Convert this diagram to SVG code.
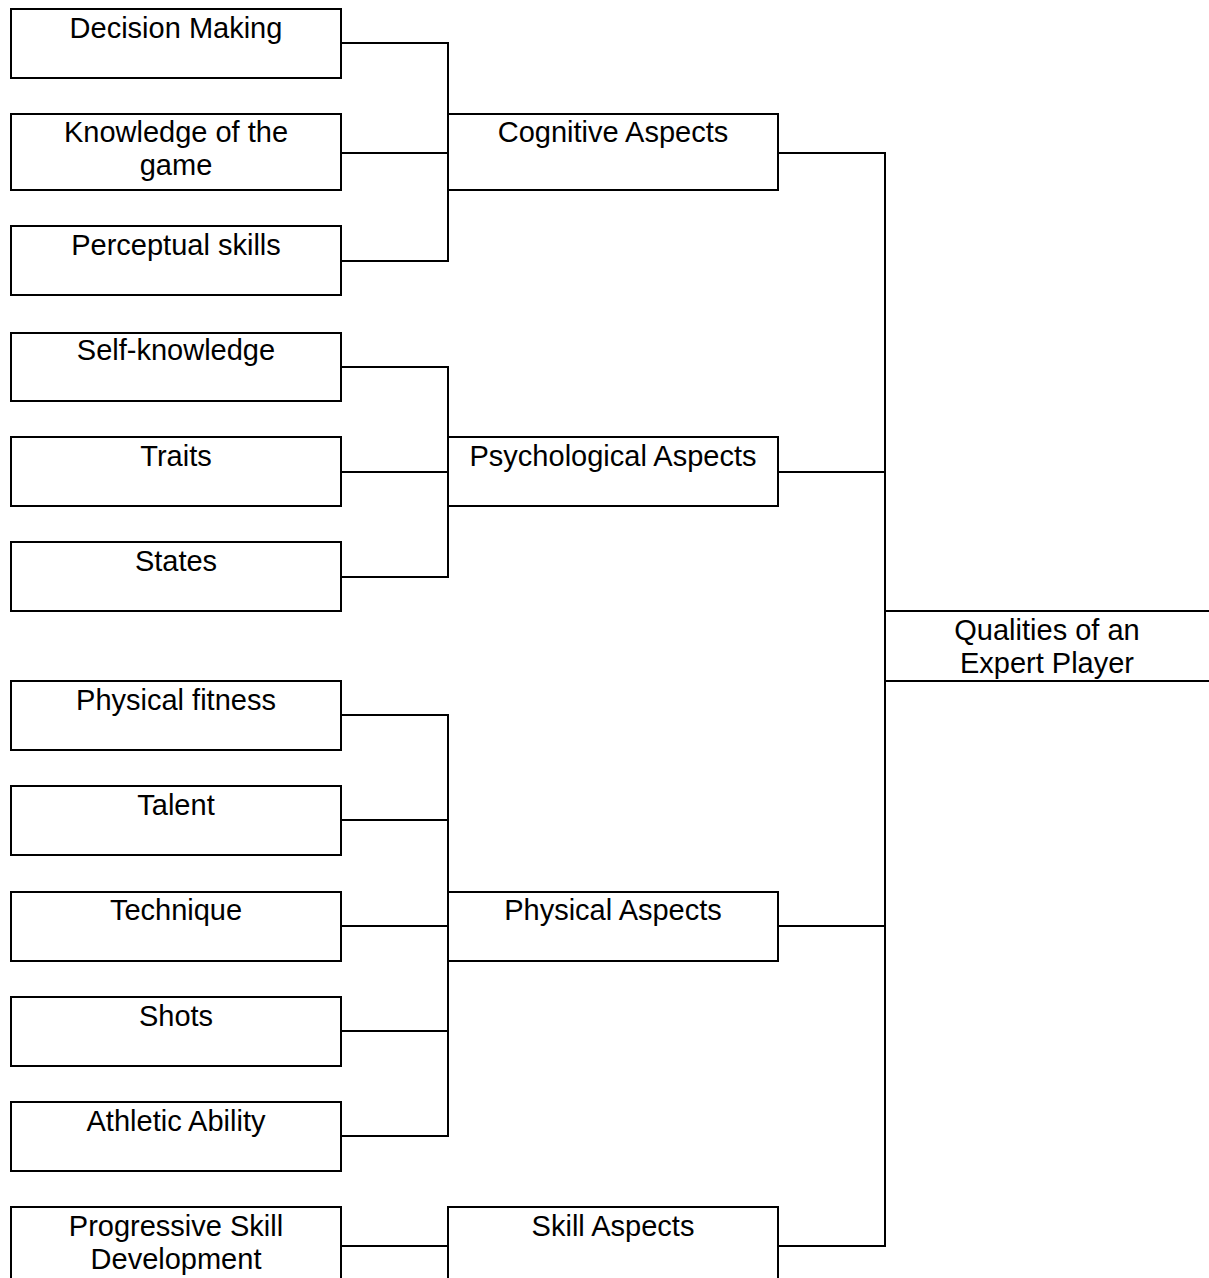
<svg xmlns="http://www.w3.org/2000/svg" width="1209" height="1278" viewBox="0 0 1209 1278">
  <style>
    .box { fill: #ffffff; stroke: #000000; stroke-width: 2; }
    .wire { fill: none; stroke: #000000; stroke-width: 2; }
    .label { font-family: "Liberation Sans", Arial, sans-serif; font-size: 29px; fill: #000000; text-anchor: middle; }
  </style>
  <rect width="1209" height="1278" fill="#ffffff"/>

  <!-- connectors -->
  <g id="connectors" class="wire">
    <!-- cognitive bracket -->
    <polyline points="341,43 448,43 448,261 341,261"/>
    <line x1="341" y1="153" x2="448" y2="153"/>
    <!-- psychological bracket -->
    <polyline points="341,367 448,367 448,577 341,577"/>
    <line x1="341" y1="472" x2="448" y2="472"/>
    <!-- physical bracket -->
    <polyline points="341,715 448,715 448,1136 341,1136"/>
    <line x1="341" y1="820" x2="448" y2="820"/>
    <line x1="341" y1="926" x2="448" y2="926"/>
    <line x1="341" y1="1031" x2="448" y2="1031"/>
    <!-- skill -->
    <line x1="341" y1="1246" x2="448" y2="1246"/>
    <!-- aspects to qualities -->
    <polyline points="778,153 885,153 885,1246 778,1246"/>
    <line x1="778" y1="472" x2="885" y2="472"/>
    <line x1="778" y1="926" x2="885" y2="926"/>
  </g>

  <!-- leaf nodes -->
  <g id="decision-making"><rect class="box" x="11" y="9" width="330" height="69"/><text class="label" x="176" y="38">Decision Making</text></g>
  <g id="knowledge-of-game"><rect class="box" x="11" y="114" width="330" height="76"/><text class="label" x="176" y="142">Knowledge of the</text><text class="label" x="176" y="175">game</text></g>
  <g id="perceptual-skills"><rect class="box" x="11" y="226" width="330" height="69"/><text class="label" x="176" y="255">Perceptual skills</text></g>
  <g id="self-knowledge"><rect class="box" x="11" y="333" width="330" height="68"/><text class="label" x="176" y="360">Self-knowledge</text></g>
  <g id="traits"><rect class="box" x="11" y="437" width="330" height="69"/><text class="label" x="176" y="466">Traits</text></g>
  <g id="states"><rect class="box" x="11" y="542" width="330" height="69"/><text class="label" x="176" y="571">States</text></g>
  <g id="physical-fitness"><rect class="box" x="11" y="681" width="330" height="69"/><text class="label" x="176" y="710">Physical fitness</text></g>
  <g id="talent"><rect class="box" x="11" y="786" width="330" height="69"/><text class="label" x="176" y="815">Talent</text></g>
  <g id="technique"><rect class="box" x="11" y="892" width="330" height="69"/><text class="label" x="176" y="920">Technique</text></g>
  <g id="shots"><rect class="box" x="11" y="997" width="330" height="69"/><text class="label" x="176" y="1026">Shots</text></g>
  <g id="athletic-ability"><rect class="box" x="11" y="1102" width="330" height="69"/><text class="label" x="176" y="1131">Athletic Ability</text></g>
  <g id="progressive-skill"><rect class="box" x="11" y="1207" width="330" height="80"/><text class="label" x="176" y="1236">Progressive Skill</text><text class="label" x="176" y="1269">Development</text></g>

  <!-- aspect nodes -->
  <g id="cognitive-aspects"><rect class="box" x="448" y="114" width="330" height="76"/><text class="label" x="613" y="142">Cognitive Aspects</text></g>
  <g id="psychological-aspects"><rect class="box" x="448" y="437" width="330" height="69"/><text class="label" x="613" y="466">Psychological Aspects</text></g>
  <g id="physical-aspects"><rect class="box" x="448" y="892" width="330" height="69"/><text class="label" x="613" y="920">Physical Aspects</text></g>
  <g id="skill-aspects"><rect class="box" x="448" y="1207" width="330" height="80"/><text class="label" x="613" y="1236">Skill Aspects</text></g>

  <!-- root node -->
  <g id="qualities-expert-player">
    <rect class="box" x="885" y="611" width="340" height="70"/>
    <text class="label" x="1047" y="640">Qualities of an</text>
    <text class="label" x="1047" y="673">Expert Player</text>
  </g>
</svg>
